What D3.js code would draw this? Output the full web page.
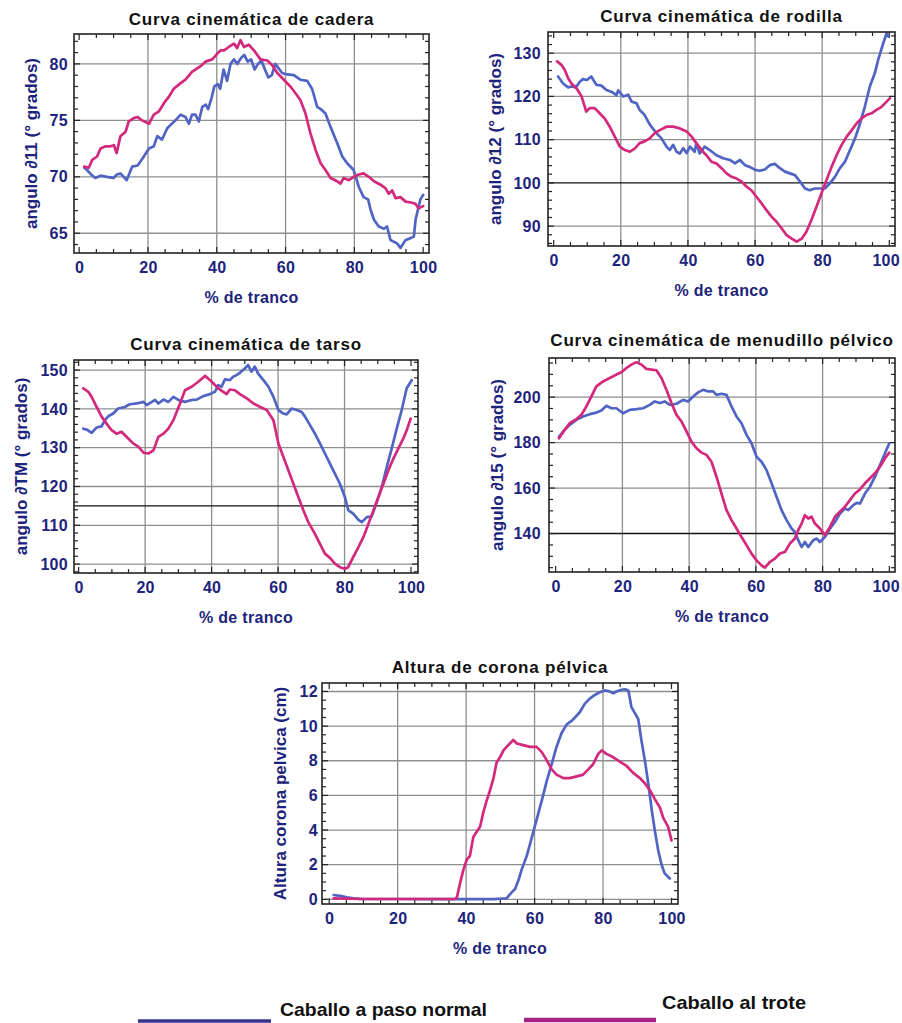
<!DOCTYPE html>
<html><head><meta charset="utf-8">
<script src="https://cdn.jsdelivr.net/npm/d3@7/dist/d3.min.js"></script>
<style>body{margin:0;background:#fff}svg{display:block}</style></head>
<body><svg id="c" width="902" height="1023"></svg>
<script>
// ---------- data ----------
const xTicks = [0, 20, 40, 60, 80, 100];
const legendLabels = ["Caballo a paso normal", "Caballo al trote"];

const caderaPaso = [[1.5,70.8],[2.3,70.6],[3.5,70.2],[4.7,69.9],[6.2,70.1],[8,70.0],[10,69.9],[11,70.2],[12,70.3],[13.8,69.7],[15.4,70.9],[17,71.0],[18.8,71.8],[20.3,72.5],[21.7,72.7],[22.7,73.6],[24.1,73.3],[25.6,74.3],[26.6,74.6],[28,75.0],[29.5,75.5],[30.9,75.3],[31.9,74.7],[32.8,75.5],[33.8,75.5],[34.8,74.9],[35.8,76.2],[36.8,76.4],[37.5,76.0],[38.5,77.0],[39.3,78.0],[40.3,78.2],[41,77.8],[42,79.5],[43,78.5],[44,80.0],[45,80.4],[46,80.0],[47,80.5],[48,80.8],[49,80.2],[50,80.4],[51,79.5],[52,80.0],[53,80.3],[54,79.5],[55,78.8],[56,79.0],[57,80.0],[58,79.6],[59,79.2],[60,79.1],[62.4,79.0],[64.3,78.6],[66.3,78.5],[67.7,77.8],[69.2,76.2],[70.2,76.0],[71.6,75.6],[73.1,74.4],[75,73.0],[76.5,71.8],[77.9,71.2],[79.8,70.6],[81.3,69.1],[82.7,68.2],[84,68.0],[84.7,67.1],[85.7,66.2],[87.1,65.6],[88.6,65.4],[89.5,65.6],[90.5,64.4],[92.4,64.1],[93.4,63.7],[94.9,64.4],[95.8,64.5],[97.3,64.7],[97.8,66.2],[99.2,68.0],[100,68.4]];
const caderaTrote = [[1.5,70.9],[2.8,70.8],[3.8,71.5],[5.2,71.8],[6.2,72.5],[7.7,72.7],[9.1,72.7],[10.1,72.8],[10.9,72.1],[12,73.6],[13.5,74.0],[14.4,74.9],[15.9,75.2],[16.9,75.3],[18.3,75.0],[20.3,74.7],[21.7,75.5],[23.2,75.8],[24.6,76.5],[26.1,77.1],[27.5,77.8],[29.5,78.3],[30.9,78.6],[32.8,79.3],[35.3,79.8],[36.7,80.2],[38.7,80.4],[40.1,80.9],[41.1,81.2],[42.1,81.2],[43.5,81.5],[45,81.8],[45.9,81.4],[46.9,82.1],[47.9,81.5],[49.3,81.7],[50.8,81.2],[52.7,80.4],[54.7,80.3],[56.1,79.9],[57.6,79.2],[59.5,78.6],[61.4,78.0],[62.9,77.4],[64.3,76.8],[65.8,75.6],[67.2,73.9],[68.7,72.4],[70.2,71.2],[71.6,70.6],[73.1,69.9],[75,69.6],[76,69.4],[76.9,69.9],[78.4,69.7],[79.8,70.0],[81.3,70.2],[82.7,70.3],[84.2,70.0],[85.7,69.6],[87.6,69.3],[89,69.0],[90,68.5],[91,68.8],[92,68.1],[93.4,68.2],[94.9,67.8],[96.8,67.7],[97.8,67.6],[98.7,67.2],[100,67.4]];

const rodillaPaso = [[1.3,124.6],[2.8,123.0],[4.3,122.1],[5.3,122.3],[6.6,122.1],[7.8,123.4],[8.7,124.0],[9.9,123.8],[11.2,124.6],[12.7,122.7],[14.2,122.5],[15.7,121.5],[17.2,121.1],[18.7,120.3],[19.2,121.4],[20.7,120.0],[22.2,120.4],[23.2,118.8],[24.7,118.4],[25.6,116.9],[27.1,115.7],[28.1,114.2],[29.1,113.0],[30.6,111.5],[32.1,110.3],[33.6,108.4],[34.6,107.6],[35.6,108.8],[36.6,107.2],[37.6,106.8],[38.6,108.0],[39.6,106.9],[40.6,108.4],[42,107.2],[42.5,109.2],[43.5,106.8],[45,108.4],[46.5,107.6],[48.5,106.4],[50.5,105.7],[52.5,105.3],[54,104.5],[55.5,105.3],[57,104.1],[58.4,103.7],[60,103.0],[61.4,102.8],[62.9,103.1],[64.4,104.1],[65.9,104.4],[67.4,103.4],[68.9,102.6],[70.4,102.2],[71.9,101.8],[73.4,100.3],[74.9,98.7],[76.3,98.3],[77.8,98.7],[79.3,98.7],[80.8,98.7],[82.3,99.9],[83.8,101.4],[85.3,103.4],[86.8,104.9],[88.3,107.6],[89.8,110.3],[91.3,113.8],[92.7,117.6],[94.2,122.3],[95.7,125.4],[96.7,128.5],[98.2,132.3],[99.2,134.6],[99.7,133.9]];
const rodillaTrote = [[1,128.1],[2.3,127.3],[3.3,126.1],[4.3,124.2],[5.3,123.0],[6.8,121.9],[8.3,120.0],[9.7,116.5],[10.7,117.3],[12.2,117.3],[13.7,116.1],[15.2,114.9],[16.7,113.0],[18.2,110.7],[19.7,108.4],[21.2,107.6],[22.7,107.2],[24.2,108.0],[25.6,109.2],[27.1,109.6],[28.6,110.3],[30.1,111.5],[31.6,112.2],[33.6,113.0],[35.6,113.0],[37.6,112.6],[39.6,111.9],[41.1,110.7],[42.5,109.2],[44.5,107.2],[45.5,106.4],[47,104.9],[48.5,104.5],[50,103.4],[51.5,102.2],[53,101.4],[54.5,101.0],[56,100.3],[57.5,99.1],[58.9,98.3],[60.4,96.8],[61.9,95.3],[63.4,93.7],[64.9,92.2],[66.4,91.0],[67.9,89.5],[69.4,87.9],[70.9,87.1],[72.4,86.4],[73.9,87.1],[75.3,88.7],[76.8,91.4],[78.3,94.5],[79.8,97.6],[81.3,100.7],[82.8,103.7],[84.3,106.4],[85.8,108.8],[87.3,110.7],[88.8,112.2],[90.3,113.8],[91.7,114.9],[93.2,115.7],[94.7,116.1],[96.2,116.9],[97.7,117.6],[99.2,118.8],[100.2,119.6]];

const tarsoPaso = [[1.4,134.9],[2.6,134.6],[3.9,133.8],[5.4,135.2],[6.9,135.5],[7.9,137.1],[8.9,138.1],[10.4,138.8],[11.9,140.1],[13.9,140.5],[15.4,141.2],[17.5,141.4],[19.5,141.8],[20.5,141.0],[22,141.8],[23,142.3],[24,141.4],[25.5,142.4],[27,141.8],[28.5,143.1],[30,142.3],[32,141.8],[34,142.3],[35.5,142.4],[37.5,143.3],[39.5,143.8],[41,144.4],[42,146.1],[43,145.7],[44,147.6],[45.5,147.4],[46.5,148.3],[47.5,148.7],[48.5,149.3],[50,150.4],[51,151.3],[52,149.6],[53,150.9],[54,149.1],[55.6,147.4],[57.1,145.7],[58.6,143.1],[60.1,139.7],[61.6,138.8],[62.6,138.6],[64.1,140.1],[65.6,139.7],[67.1,139.2],[68.1,138.0],[69.6,135.8],[71.1,133.6],[72.6,131.1],[74.1,128.5],[75.6,125.9],[77.1,123.3],[78.6,120.7],[80.1,117.3],[81.1,113.9],[82.6,113.0],[84.2,111.4],[85.2,110.8],[86.7,112.1],[88.2,112.3],[89.7,116.0],[91.2,119.9],[92.7,125.0],[94.2,129.8],[95.7,134.9],[97.2,139.7],[98.7,145.3],[100.2,147.4]];
const tarsoTrote = [[1.4,145.3],[2.9,144.4],[3.9,143.1],[5.4,140.5],[6.9,138.0],[8.4,136.2],[9.9,134.5],[11.4,133.6],[12.9,134.1],[14.4,132.8],[16.4,131.1],[18,130.2],[19.5,128.7],[21,128.5],[22.5,129.3],[24,132.8],[25.5,133.6],[27,134.9],[28.5,137.1],[30.5,141.4],[32,144.8],[34,145.7],[36,147.0],[38,148.5],[39,147.8],[40.5,146.6],[42,145.3],[43.5,144.4],[44.5,143.8],[45.5,145.0],[47,144.8],[48.5,143.8],[50.6,142.7],[52.6,141.4],[54.6,140.5],[56.6,139.7],[58.6,137.1],[60.1,131.1],[61.6,127.6],[63.1,124.2],[64.6,120.7],[66.1,117.3],[67.6,113.9],[69.1,110.8],[71.1,107.8],[72.6,105.2],[74.1,102.7],[75.6,101.6],[77.1,100.1],[78.6,99.2],[80.1,98.8],[81.1,99.2],[82.6,101.8],[84.2,104.4],[85.7,107.0],[87.2,110.4],[88.7,113.9],[90.2,117.3],[91.7,120.7],[93.2,124.2],[94.7,127.2],[96.2,129.8],[97.7,132.4],[98.7,134.5],[99.9,137.5]];

const menudilloPaso = [[1,182.6],[2.7,185.6],[4.2,187.8],[6.2,190.0],[8.2,191.5],[10.2,192.5],[12.2,193.2],[13.7,194.1],[15.2,196.2],[16.7,195.1],[18.2,195.1],[20.2,192.9],[22.2,194.4],[24.2,194.7],[26.2,195.1],[28.2,196.6],[29.7,198.1],[31.2,197.4],[32.7,198.1],[34.2,196.6],[36.2,197.1],[38.2,198.8],[39.7,198.1],[41.2,200.3],[42.7,202.1],[44.2,203.2],[45.7,202.5],[47.2,202.5],[48.2,201.0],[49.7,201.5],[51.2,201.0],[52.7,195.9],[54.2,191.5],[55.7,188.5],[57.2,183.4],[58.7,179.7],[60.2,173.8],[61.7,171.6],[63.2,167.9],[64.7,162.1],[66.2,156.2],[67.7,150.3],[69.2,145.9],[70.7,142.2],[71.7,140.7],[72.7,137.1],[73.7,134.1],[74.7,136.3],[75.7,134.1],[77.2,137.1],[78.2,137.8],[79.2,136.3],[80.7,138.5],[82.2,142.2],[83.7,145.1],[85.2,148.8],[86.7,151.0],[87.7,150.3],[89.2,152.5],[90.2,153.5],[91.2,153.2],[92.7,157.6],[94.2,160.6],[95.7,165.0],[97.2,170.1],[98.7,175.3],[100,179.7]];
const menudilloTrote = [[1,181.9],[2.7,185.6],[4.2,188.5],[6.2,190.3],[7.7,192.2],[9.2,195.9],[10.7,200.3],[12.2,204.7],[14.2,206.9],[16.2,208.4],[18.2,209.9],[19.7,210.9],[21.2,212.8],[22.7,214.3],[24.2,215.4],[25.7,214.3],[27.2,212.4],[28.7,212.1],[30.2,211.8],[31.7,208.4],[33.2,203.2],[34.7,197.4],[36.2,192.2],[37.7,189.3],[39.2,184.9],[40.7,180.4],[42.2,177.5],[43.7,175.6],[45.2,174.6],[46.7,171.6],[48.2,165.0],[49.7,157.6],[51.2,150.3],[52.7,145.9],[54.2,142.2],[55.7,138.5],[57.2,134.9],[58.7,131.2],[60.2,128.2],[61.7,126.0],[62.7,125.0],[64.2,127.5],[65.7,129.0],[67.2,131.2],[68.7,131.9],[70.2,135.6],[71.7,137.8],[72.7,141.5],[73.7,144.4],[74.7,148.1],[75.7,146.6],[76.7,147.4],[77.7,144.4],[79.2,142.2],[80.7,139.3],[82.2,142.9],[83.7,147.4],[85.2,149.6],[86.7,151.8],[88.2,154.7],[89.7,157.6],[91.2,159.4],[92.7,162.1],[94.2,164.3],[95.7,166.5],[97.2,169.4],[98.7,173.1],[100,175.6]];

const coronaPaso = [[1.3,0.25],[3.2,0.2],[5.2,0.12],[7.1,0.06],[9,0.03],[12,0.02],[20,0.02],[30,0.01],[40,0.01],[48,0.01],[51.8,0.05],[53.3,0.4],[54.3,0.6],[55.3,1.1],[56.2,1.7],[57.7,2.5],[59.1,3.5],[60.6,4.6],[62.1,5.7],[63.5,6.8],[65,7.8],[66.4,8.8],[67.9,9.6],[69.4,10.1],[70.8,10.3],[71.8,10.5],[73.2,10.8],[74.7,11.3],[76.2,11.6],[77.6,11.8],[79.1,11.96],[80.5,12.06],[82,12.0],[83,11.9],[83.9,12.0],[85.4,12.1],[86.4,12.13],[87.4,12.06],[88.3,11.1],[89.3,10.75],[90.3,10.4],[91.2,9.2],[92.2,8.05],[93.2,6.7],[94.2,5.2],[95.1,4.0],[96.1,2.85],[97.1,2.0],[98,1.5],[99.5,1.2]];
const coronaTrote = [[1.3,0.06],[10,0.02],[20,0.02],[30,0.02],[36.8,0.02],[37.3,0.1],[38.2,0.9],[39.2,1.7],[40.2,2.3],[41.1,2.5],[42.1,3.6],[43.1,3.9],[44.1,4.2],[45,5.0],[46,5.7],[47,6.3],[48,7.0],[48.9,7.9],[49.9,8.2],[50.9,8.6],[52.3,8.9],[53.8,9.2],[54.8,9.0],[56.7,8.9],[58.7,8.8],[60.6,8.8],[62.1,8.5],[63.5,8.05],[65,7.5],[66.4,7.2],[68.4,7.0],[70.3,7.0],[72.3,7.1],[74.2,7.2],[75.7,7.5],[77.1,7.8],[78.6,8.4],[79.6,8.6],[81,8.4],[83,8.2],[84.9,7.95],[86.9,7.7],[88.8,7.3],[90.8,7.0],[92.2,6.7],[93.7,6.3],[95.1,5.8],[96.6,5.3],[97.6,4.7],[99,4.2],[100,3.4]];

// ---------- layout ----------
const COL_PASO = "#5064c4", COL_TROTE = "#d4287c";
const NAVY = "#1c237c";
const FONT = "'Liberation Sans', Arial, Helvetica, sans-serif";

const panels = [
  {title:"Curva cinemática de cadera", ylabel:"angulo \u220211 (° grados)", box:[74,34,429,253], xDom:[-1.5,101.7], yDom:[63.25,82.65], yTicks:[65,70,75,80], yMinor:1, ref:null, ylabX:31, titleY:25, tickGap:6, paso:caderaPaso, trote:caderaTrote},
  {title:"Curva cinemática de rodilla", ylabel:"angulo \u220212 (° grados)", box:[548,32,895,246], xDom:[-1.7,101.7], yDom:[85.4,134.9], yTicks:[90,100,110,120,130], yMinor:2, ref:100, ylabX:495, titleY:22, tickGap:7, paso:rodillaPaso, trote:rodillaTrote},
  {title:"Curva cinemática de tarso", ylabel:"angulo \u2202TM (° grados)", box:[74,360,418,573], xDom:[-1.4,102.1], yDom:[97.7,152.6], yTicks:[100,110,120,130,140,150], yMinor:2, ref:115, ylabX:21, titleY:350, tickGap:6, paso:tarsoPaso, trote:tarsoTrote},
  {title:"Curva cinemática de menudillo pélvico", ylabel:"angulo \u220215 (° grados)", box:[549,358,895,572], xDom:[-2.0,101.7], yDom:[123.1,217.2], yTicks:[140,160,180,200], yMinor:5, ref:140, ylabX:497, titleY:346, tickGap:8, paso:menudilloPaso, trote:menudilloTrote},
  {title:"Altura de corona pélvica", ylabel:"Altura corona pelvica (cm)", box:[322,683,678,904], xDom:[-2.1,101.9], yDom:[-0.27,12.49], yTicks:[0,2,4,6,8,10,12], yMinor:0.5, ref:null, ylabX:280, titleY:673, tickGap:4, paso:coronaPaso, trote:coronaTrote}
];

const svg = d3.select("#c");
svg.append("rect").attr("width",902).attr("height",1023).attr("fill","#fff");

function drawPanel(p){
  const [x0,y0,x1,y1] = p.box;
  const x = d3.scaleLinear().domain(p.xDom).range([x0,x1]);
  const y = d3.scaleLinear().domain(p.yDom).range([y1,y0]);
  const g = svg.append("g");

  // grid
  g.append("g").selectAll("line").data(xTicks.filter(t=>t>0&&t<100)).join("line")
    .attr("x1",d=>x(d)).attr("x2",d=>x(d)).attr("y1",y0).attr("y2",y1)
    .attr("stroke","#8e8e8e").attr("stroke-width",1.3);
  g.append("g").selectAll("line").data(p.yTicks.filter(t=>t!==p.ref)).join("line")
    .attr("x1",x0).attr("x2",x1).attr("y1",d=>y(d)).attr("y2",d=>y(d))
    .attr("stroke","#8e8e8e").attr("stroke-width",1.3);
  if(p.ref!==null){
    g.append("line").attr("x1",x0).attr("x2",x1).attr("y1",y(p.ref)).attr("y2",y(p.ref))
      .attr("stroke","#111").attr("stroke-width",1.4);
  }

  // ticks (inward, all four sides)
  const xm = d3.range(0,100.01,5);
  const tk = g.append("g").attr("stroke","#222").attr("stroke-width",1.2);
  xm.forEach(v=>{
    const L = (v%20===0)?6:4;
    tk.append("line").attr("x1",x(v)).attr("x2",x(v)).attr("y1",y1).attr("y2",y1-L);
    tk.append("line").attr("x1",x(v)).attr("x2",x(v)).attr("y1",y0).attr("y2",y0+L);
  });
  const s = p.yMinor;
  const ym = d3.range(Math.ceil(p.yDom[0]/s)*s, p.yDom[1], s);
  ym.forEach(v=>{
    const major = p.yTicks.some(t=>Math.abs(t-v)<1e-6);
    const L = major?6:4;
    tk.append("line").attr("x1",x0).attr("x2",x0+L).attr("y1",y(v)).attr("y2",y(v));
    tk.append("line").attr("x1",x1).attr("x2",x1-L).attr("y1",y(v)).attr("y2",y(v));
  });

  // series
  const line = d3.line().x(d=>x(d[0])).y(d=>y(d[1]));
  [[p.paso,COL_PASO],[p.trote,COL_TROTE]].forEach(([data,col])=>{
    g.append("path").datum(data).attr("d",line).attr("fill","none")
      .attr("stroke",col).attr("stroke-width",2.7).attr("stroke-linejoin","round").attr("stroke-linecap","round");
  });

  // frame
  g.append("rect").attr("x",x0).attr("y",y0).attr("width",x1-x0).attr("height",y1-y0)
    .attr("fill","none").attr("stroke","#222").attr("stroke-width",1.6);

  // axes labels
  const ax = g.append("g").attr("transform",`translate(0,${y1})`)
    .call(d3.axisBottom(x).tickValues(xTicks).tickSize(0).tickPadding(9).tickFormat(d3.format("d")));
  ax.select(".domain").remove();
  ax.selectAll("text").attr("font-family",FONT).attr("font-weight","bold").attr("font-size",16)
    .attr("fill",NAVY).attr("letter-spacing",0.3);
  // keep labels inside the page
  ax.selectAll("text").each(function(){
    const b = this.getBBox();
    const tr = this.parentNode.getAttribute("transform");
    const tx = +tr.match(/translate\(([-\d.]+)/)[1];
    const right = tx + b.x + b.width;
    if(right > 900) d3.select(this).attr("dx", (900-right)+"px");
  });

  const ay = g.append("g").attr("transform",`translate(${x0},0)`)
    .call(d3.axisLeft(y).tickValues(p.yTicks).tickSize(0).tickPadding(p.tickGap).tickFormat(d3.format("d")));
  ay.select(".domain").remove();
  ay.selectAll("text").attr("font-family",FONT).attr("font-weight","bold").attr("font-size",16)
    .attr("fill",NAVY).attr("letter-spacing",0.3);

  // titles
  g.append("text").attr("x",(x0+x1)/2).attr("y",p.titleY).attr("text-anchor","middle")
    .attr("font-family",FONT).attr("font-weight","bold").attr("font-size",17).attr("letter-spacing",0.8)
    .attr("fill","#111").text(p.title);
  g.append("text").attr("x",(x0+x1)/2).attr("y",y1+50).attr("text-anchor","middle")
    .attr("font-family",FONT).attr("font-weight","bold").attr("font-size",16).attr("letter-spacing",0.3)
    .attr("fill",NAVY).text("% de tranco");
  const cy = (y0+y1)/2;
  g.append("text").attr("transform",`translate(${p.ylabX},${cy}) rotate(-90)`).attr("text-anchor","middle")
    .attr("dy","0.35em").attr("font-family",FONT).attr("font-weight","bold").attr("font-size",17)
    .attr("fill",NAVY).text(p.ylabel);
}
panels.forEach(drawPanel);

// legend
const LF = "'Liberation Sans Narrow', 'Arial Narrow', 'Liberation Sans', Arial, sans-serif";
const leg = [
  {label:legendLabels[0], col:"#34348e", lx:[138,271], ly:1021, sw:3.5, tx:280, ty:1016, tw:207},
  {label:legendLabels[1], col:"#a8237f", lx:[524,656], ly:1020, sw:4.5, tx:662, ty:1009, tw:144}
];
leg.forEach(l=>{
  svg.append("line").attr("x1",l.lx[0]).attr("x2",l.lx[1]).attr("y1",l.ly).attr("y2",l.ly)
    .attr("stroke",l.col).attr("stroke-width",l.sw);
  svg.append("text").attr("x",l.tx).attr("y",l.ty).attr("font-family",LF).attr("font-size",19)
    .attr("font-weight","bold").attr("textLength",l.tw).attr("lengthAdjust","spacingAndGlyphs")
    .attr("fill","#111").text(l.label);
});
</script></body></html>
